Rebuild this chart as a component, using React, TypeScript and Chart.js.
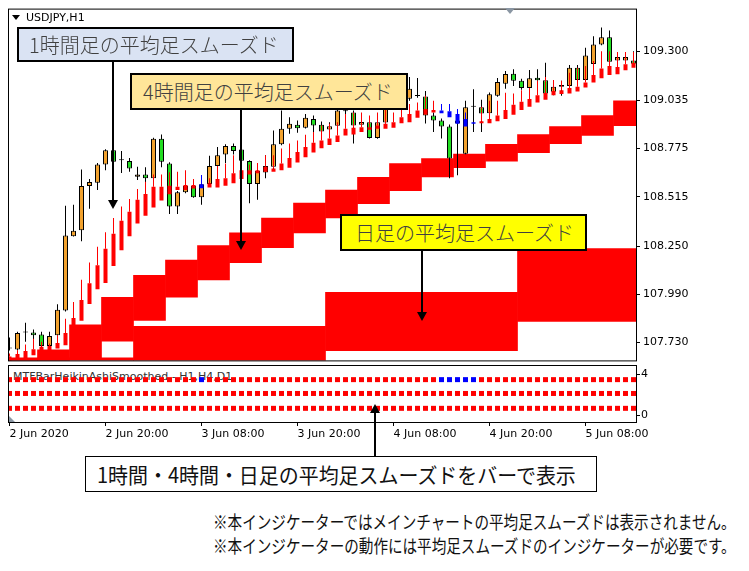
import React, { useEffect, useRef } from 'react';
import { Chart, registerables } from 'chart.js';

Chart.register(...registerables);

// ---------------- data ----------------
const xTickBars = [0, 12, 24, 36, 48, 60, 72];
const xTickLabels = ['2 Jun 2020', '2 Jun 20:00', '3 Jun 08:00', '3 Jun 20:00', '4 Jun 08:00', '4 Jun 20:00', '5 Jun 08:00'];
const priceTicks = [109.3, 109.035, 108.775, 108.515, 108.25, 107.99, 107.73];
const subTicks = [0, 4];

// USDJPY H1 candles (bar 0 = 2 Jun 08:00)
const opens = [
  107.698, 107.693, 107.784, 107.784, 107.773, 107.712, 107.769, 107.903, 108.303, 108.335,
  108.574, 108.591, 108.690, 108.766, 108.713, 108.708, 108.623, 108.636, 108.615, 108.828,
  108.695, 108.463, 108.540, 108.575, 108.513, 108.584, 108.682, 108.743, 108.789, 108.770,
  108.708, 108.584, 108.647, 108.677, 108.798, 108.882, 108.903, 108.887, 108.935, 108.903,
  108.878, 108.898, 108.977, 108.970, 108.903, 108.917, 108.832, 108.916, 108.990, 109.006,
  109.044, 109.060, 109.056, 108.953, 108.926, 108.894, 108.926, 108.748, 109.001, 108.998,
  108.965, 109.060, 109.124, 109.179, 109.140, 109.101, 109.157, 109.143, 109.081, 109.108,
  109.113, 109.211, 109.145, 109.231, 109.336, 109.375, 109.250, 109.250, 109.250,
];
const highs = [
  107.757, 107.789, 107.837, 107.800, 107.789, 107.789, 107.936, 108.467, 108.472, 108.663,
  108.611, 108.698, 108.771, 108.777, 108.762, 108.725, 108.677, 108.675, 108.834, 108.851,
  108.702, 108.547, 108.655, 108.584, 108.590, 108.736, 108.784, 108.798, 108.802, 108.777,
  108.713, 108.698, 108.739, 108.873, 108.980, 108.944, 108.926, 108.962, 108.953, 108.921,
  108.917, 109.001, 109.006, 108.980, 108.964, 108.926, 108.948, 109.033, 109.044, 109.076,
  109.161, 109.156, 109.086, 108.969, 108.937, 108.905, 108.964, 109.033, 109.095, 109.038,
  109.077, 109.156, 109.193, 109.202, 109.151, 109.199, 109.202, 109.238, 109.125, 109.140,
  109.225, 109.225, 109.318, 109.380, 109.428, 109.411, 109.291, 109.291, 109.300,
];
const lows = [
  107.687, 107.687, 107.735, 107.740, 107.703, 107.698, 107.767, 107.898, 108.301, 108.276,
  108.451, 108.552, 108.659, 108.702, 108.643, 108.650, 108.606, 108.579, 108.611, 108.674,
  108.423, 108.423, 108.535, 108.510, 108.472, 108.579, 108.681, 108.698, 108.743, 108.702,
  108.481, 108.499, 108.615, 108.659, 108.793, 108.855, 108.861, 108.884, 108.861, 108.862,
  108.864, 108.894, 108.953, 108.802, 108.900, 108.830, 108.828, 108.910, 108.985, 108.990,
  109.033, 109.049, 108.910, 108.864, 108.830, 108.615, 108.632, 108.745, 108.864, 108.864,
  108.958, 109.054, 109.097, 109.113, 109.092, 109.097, 109.140, 109.070, 109.063, 109.060,
  109.108, 109.140, 109.140, 109.225, 109.332, 109.241, 109.247, 109.247, 109.231,
];
const closes = [
  107.699, 107.782, 107.785, 107.769, 107.711, 107.765, 107.907, 108.307, 108.332, 108.574,
  108.595, 108.690, 108.766, 108.704, 108.712, 108.668, 108.636, 108.615, 108.828, 108.704,
  108.463, 108.540, 108.575, 108.513, 108.583, 108.682, 108.739, 108.789, 108.762, 108.709,
  108.584, 108.654, 108.681, 108.798, 108.882, 108.909, 108.885, 108.941, 108.900, 108.867,
  108.896, 108.980, 108.976, 108.900, 108.918, 108.832, 108.917, 109.006, 109.017, 109.049,
  109.097, 109.059, 108.953, 108.926, 108.894, 108.722, 108.910, 108.998, 109.000, 108.964,
  109.068, 109.134, 109.177, 109.140, 109.101, 109.154, 109.143, 109.072, 109.108, 109.118,
  109.211, 109.145, 109.277, 109.336, 109.375, 109.243, 109.268, 109.268, 109.232,
];

// H1 Heikin-Ashi smoothed
const haOpen = [
  107.618, 107.636, 107.645, 107.662, 107.671, 107.689, 107.698, 107.716, 107.789, 107.848,
  107.938, 108.018, 108.051, 108.143, 108.228, 108.303, 108.371, 108.414, 108.458, 108.495,
  108.529, 108.552, 108.552, 108.560, 108.583, 108.565, 108.565, 108.575, 108.588, 108.611,
  108.636, 108.642, 108.650, 108.650, 108.659, 108.672, 108.700, 108.729, 108.754, 108.777,
  108.795, 108.810, 108.846, 108.851, 108.864, 108.877, 108.882, 108.882, 108.887, 108.912,
  108.917, 108.941, 108.958, 108.970, 108.980, 108.976, 108.962, 108.935, 108.917, 108.912,
  108.912, 108.922, 108.935, 108.958, 108.983, 109.001, 109.024, 109.038, 109.063, 109.069,
  109.072, 109.083, 109.104, 109.131, 109.154, 109.172, 109.176, 109.197, 109.211,
];
const haClose = [
  107.655, 107.668, 107.684, 107.694, 107.707, 107.712, 107.728, 107.782, 107.862, 107.960,
  108.049, 108.147, 108.236, 108.317, 108.387, 108.435, 108.499, 108.531, 108.570, 108.570,
  108.575, 108.570, 108.579, 108.579, 108.561, 108.588, 108.611, 108.615, 108.642, 108.659,
  108.659, 108.659, 108.677, 108.668, 108.695, 108.725, 108.757, 108.784, 108.807, 108.819,
  108.830, 108.846, 108.882, 108.887, 108.890, 108.890, 108.900, 108.909, 108.917, 108.944,
  108.962, 108.980, 108.989, 108.983, 108.965, 108.944, 108.909, 108.894, 108.909, 108.922,
  108.935, 108.953, 108.983, 109.012, 109.028, 109.042, 109.063, 109.074, 109.086, 109.090,
  109.101, 109.108, 109.131, 109.172, 109.206, 109.220, 109.215, 109.229, 109.238,
];
const haHigh = [
  107.671, 107.689, 107.719, 107.751, 107.735, 107.725, 107.769, 107.858, 107.949, 108.068,
  108.161, 108.246, 108.324, 108.401, 108.463, 108.504, 108.558, 108.597, 108.636, 108.636,
  108.648, 108.650, 108.659, 108.611, 108.633, 108.615, 108.682, 108.695, 108.739, 108.708,
  108.690, 108.698, 108.739, 108.739, 108.775, 108.802, 108.819, 108.850, 108.864, 108.900,
  108.909, 108.917, 108.962, 108.970, 108.969, 108.953, 108.969, 108.997, 108.970, 108.989,
  109.015, 109.024, 109.060, 109.033, 109.015, 109.015, 108.989, 108.969, 108.917, 109.001,
  109.033, 109.033, 109.076, 109.072, 109.090, 109.101, 109.140, 109.161, 109.145, 109.140,
  109.184, 109.211, 109.220, 109.247, 109.300, 109.300, 109.296, 109.296, 109.296,
];

// H4 Heikin-Ashi smoothed blocks (first bar of each 4-hour block)
const h4StartBar = [0, 4, 8, 12, 16, 20, 24, 28, 32, 36, 40, 44, 48, 52, 56, 60, 64, 68, 72, 76];
const h4Open = [
  107.559, 107.598, 107.645, 107.737, 107.849, 107.974, 108.068, 108.161, 108.241, 108.321,
  108.401, 108.478, 108.549, 108.622, 108.672, 108.707, 108.753, 108.801, 108.846, 108.898,
];
const h4Close = [
  107.639, 107.691, 107.826, 107.974, 108.093, 108.175, 108.253, 108.321, 108.401, 108.481,
  108.552, 108.620, 108.695, 108.722, 108.745, 108.798, 108.851, 108.894, 108.953, 109.033,
];

// Daily Heikin-Ashi smoothed blocks (first bar of each day: 2, 3, 4, 5 Jun)
const d1StartBar = [-8, 16, 40, 64];
const d1Open = [107.459, 107.554, 107.686, 107.844];
const d1Close = [107.648, 107.817, 108.001, 108.237];

// sub-window levels of the three bar rows (H1, H4, D1)
const rowLevels = [3.5, 2.15, 0.7];

// ---------------- styles ----------------
const RED = '#ff0000';
const BLUE = '#0000ff';
const ORANGE = '#f2a22e';
const GREEN = '#22dd22';
const AXIS_FONT = '"DejaVu Sans", Verdana, sans-serif';
const JP_FONT = '"Noto Sans CJK JP", "Noto Sans", sans-serif';
const X_MIN = -0.0625;
const X_MAX = 78.3125;
const Y_MIN = 107.634;
const Y_MAX = 109.524;
const SUB_MIN = -0.634;
const SUB_MAX = 4.83;
const W = 749;

const framePlugin = {
  id: 'frame',
  afterDraw(chart: any) {
    const { ctx, chartArea: a } = chart;
    ctx.save();
    ctx.strokeStyle = '#000';
    ctx.lineWidth = 1;
    ctx.strokeRect(a.left - 0.5, a.top - 0.5, a.right - a.left + 1, a.bottom - a.top + 1);
    ctx.restore();
  },
};

const hiddenX = (min: number, max: number) => ({
  type: 'linear' as const,
  min,
  max,
  display: false,
  ticks: { display: false },
  afterBuildTicks: (s: any) => {
    s.ticks = [];
  },
});

function MainChart() {
  const ref = useRef<HTMLCanvasElement>(null);
  useEffect(() => {
    if (!ref.current) return;
    const bars = opens.map((_, i) => i);
    const candleBodies = bars.map((i) => ({ x: i, y: [opens[i], closes[i]] }));
    const candleWicks = bars.map((i) => ({ x: i, y: [lows[i], highs[i]] }));
    const candleColors = bars.map((i) => (closes[i] < opens[i] ? GREEN : ORANGE));
    const haBodies = bars.map((i) => ({ x: i, y: [haOpen[i], haClose[i]] }));
    const haWicks = bars.map((i) => ({ x: i, y: [Math.max(haOpen[i], haClose[i]), haHigh[i]] }));
    const haColors = bars.map((i) => (haClose[i] >= haOpen[i] ? RED : BLUE));
    const h4Bars = h4StartBar.map((s, k) => ({ x: s + 1.5, y: [h4Open[k], h4Close[k]] }));
    const h4Colors = h4StartBar.map((_, k) => (h4Close[k] >= h4Open[k] ? RED : BLUE));
    const d1Bars = d1StartBar.map((s, k) => ({ x: s + 11.5, y: [d1Open[k], d1Close[k]] }));
    const d1Colors = d1StartBar.map((_, k) => (d1Close[k] >= d1Open[k] ? RED : BLUE));
    const common = { grouped: false, categoryPercentage: 1, borderWidth: 0, borderSkipped: false };

    const chart = new Chart(ref.current, {
      type: 'bar',
      data: {
        datasets: [
          { ...common, label: 'H1 HA body', data: haBodies as any, backgroundColor: haColors, barPercentage: 0.5, order: 0, xAxisID: 'x' },
          { ...common, label: 'H1 HA wick', data: haWicks as any, backgroundColor: haColors, barPercentage: 0.125, order: 1, xAxisID: 'x' },
          {
            ...common,
            label: 'USDJPY body',
            data: candleBodies as any,
            backgroundColor: candleColors,
            borderColor: '#000',
            borderWidth: 1,
            barPercentage: 0.625,
            minBarLength: 1,
            order: 2,
            xAxisID: 'x',
          },
          { ...common, label: 'USDJPY wick', data: candleWicks as any, backgroundColor: '#000', barPercentage: 0.125, order: 3, xAxisID: 'x' },
          { ...common, label: 'H4 HA', data: h4Bars as any, backgroundColor: h4Colors, barPercentage: 1, order: 4, xAxisID: 'xH4' },
          { ...common, label: 'D1 HA', data: d1Bars as any, backgroundColor: d1Colors, barPercentage: 1, order: 5, xAxisID: 'xD1' },
        ] as any,
      },
      options: {
        animation: false,
        responsive: false,
        maintainAspectRatio: false,
        devicePixelRatio: 1,
        events: [],
        layout: { padding: { left: 9, top: 8, right: 0, bottom: 8 } },
        plugins: { legend: { display: false }, tooltip: { enabled: false } },
        scales: {
          x: hiddenX(X_MIN, X_MAX),
          xH4: hiddenX(X_MIN, X_MAX),
          xD1: hiddenX(X_MIN, X_MAX),
          y: {
            type: 'linear',
            position: 'right',
            min: Y_MIN,
            max: Y_MAX,
            afterBuildTicks: (s: any) => {
              s.ticks = priceTicks.map((v) => ({ value: v }));
            },
            afterFit: (s: any) => {
              s.width = W - 636;
            },
            ticks: {
              callback: (v: any) => Number(v).toFixed(3),
              font: { family: AXIS_FONT, size: 11 },
              color: '#000',
              padding: 3,
              autoSkip: false,
            },
            grid: { drawOnChartArea: false, drawTicks: true, tickLength: 4, color: '#000' },
            border: { display: false },
          },
        } as any,
      },
      plugins: [framePlugin],
    });
    return () => chart.destroy();
  }, []);
  return <canvas ref={ref} width={W} height={370} style={{ position: 'absolute', left: 0, top: 0, width: W, height: 370 }} />;
}

function SubChart() {
  const ref = useRef<HTMLCanvasElement>(null);
  useEffect(() => {
    if (!ref.current) return;
    const bars = opens.map((_, i) => i);
    const dirH1 = bars.map((i) => (haClose[i] >= haOpen[i] ? RED : BLUE));
    const dirH4 = bars.map((i) => {
      let k = 0;
      h4StartBar.forEach((s, j) => {
        if (i >= s) k = j;
      });
      return h4Close[k] >= h4Open[k] ? RED : BLUE;
    });
    const dirD1 = bars.map((i) => {
      let k = 0;
      d1StartBar.forEach((s, j) => {
        if (i >= s) k = j;
      });
      return d1Close[k] >= d1Open[k] ? RED : BLUE;
    });
    const rows = [dirH1, dirH4, dirD1];
    const side = 3.5355;
    const chart = new Chart(ref.current, {
      type: 'scatter',
      data: {
        datasets: rows.map((colors, r) => ({
          label: ['H1', 'H4', 'D1'][r],
          data: bars.map((i) => ({ x: i, y: rowLevels[r] })),
          pointBackgroundColor: colors,
          pointBorderWidth: 0,
          pointStyle: 'rect',
          pointRadius: side,
          pointHoverRadius: side,
        })) as any,
      },
      options: {
        animation: false,
        responsive: false,
        maintainAspectRatio: false,
        devicePixelRatio: 1,
        events: [],
        layout: { padding: { left: 9, top: 8, right: 0, bottom: 0 } },
        plugins: { legend: { display: false }, tooltip: { enabled: false } },
        scales: {
          x: {
            type: 'linear',
            position: 'bottom',
            min: X_MIN,
            max: X_MAX,
            afterBuildTicks: (s: any) => {
              s.ticks = xTickBars.map((v) => ({ value: v }));
            },
            afterFit: (s: any) => {
              s.height = 28;
            },
            ticks: {
              callback: (_v: any, i: number) => xTickLabels[i],
              align: 'start',
              maxRotation: 0,
              minRotation: 0,
              autoSkip: false,
              font: { family: AXIS_FONT, size: 11 },
              color: '#000',
              padding: 1.5,
            },
            grid: { drawOnChartArea: false, drawTicks: true, tickLength: 4, color: '#000' },
            border: { display: false },
          },
          y: {
            type: 'linear',
            position: 'right',
            min: SUB_MIN,
            max: SUB_MAX,
            afterBuildTicks: (s: any) => {
              s.ticks = subTicks.map((v) => ({ value: v }));
            },
            afterFit: (s: any) => {
              s.width = W - 636;
            },
            ticks: {
              callback: (v: any) => String(v),
              font: { family: AXIS_FONT, size: 11 },
              color: '#000',
              padding: 1,
              autoSkip: false,
            },
            grid: { drawOnChartArea: false, drawTicks: true, tickLength: 4, color: '#000' },
            border: { display: false },
          },
        } as any,
      },
      plugins: [framePlugin],
    });
    return () => chart.destroy();
  }, []);
  return <canvas ref={ref} width={W} height={92} style={{ position: 'absolute', left: 0, top: 358, width: W, height: 92 }} />;
}

type BoxProps = {
  left: number;
  top: number;
  width: number;
  height: number;
  bg: string;
  border: number;
  size: number;
  pad: number;
  text: string;
  sx?: number;
  weight?: number;
  color?: string;
};
function Box({ left, top, width, height, bg, border, size, pad, text, sx = 1, weight = 300, color = '#404040' }: BoxProps) {
  return (
    <div
      style={{
        position: 'absolute',
        left,
        top,
        width,
        height,
        boxSizing: 'border-box',
        background: bg,
        border: `${border}px solid #000`,
        display: 'flex',
        alignItems: 'center',
        paddingLeft: pad,
        fontFamily: JP_FONT,
        fontSize: size,
        fontWeight: weight,
        color,
        whiteSpace: 'nowrap',
        lineHeight: 1,
      }}
    >
      <span style={{ display: 'inline-block', transform: `scaleX(${sx})`, transformOrigin: 'left center' }}>{text}</span>
    </div>
  );
}

function Arrow({ x, from, to }: { x: number; from: number; to: number }) {
  const down = to > from;
  const head = 9;
  const half = 5;
  const lineTop = down ? from : to + head;
  const lineBottom = down ? to - head : from;
  const headStyle: any = {
    position: 'absolute',
    left: x - half,
    top: down ? to - head : to,
    width: 0,
    height: 0,
    borderLeft: `${half}px solid transparent`,
    borderRight: `${half}px solid transparent`,
  };
  if (down) headStyle.borderTop = `${head}px solid #000`;
  else headStyle.borderBottom = `${head}px solid #000`;
  return (
    <>
      <div style={{ position: 'absolute', left: x - 1, top: lineTop, width: 2, height: lineBottom - lineTop, background: '#000' }} />
      <div style={headStyle} />
    </>
  );
}

const noteStyle: React.CSSProperties = {
  position: 'absolute',
  left: 213,
  fontFamily: JP_FONT,
  fontSize: 18,
  lineHeight: '22px',
  color: '#111',
  whiteSpace: 'nowrap',
  transform: 'scaleX(0.81)',
  transformOrigin: 'left center',
};

export default function App() {
  return (
    <div style={{ position: 'absolute', left: 0, top: 0, width: W, height: 571, background: '#fff', overflow: 'hidden' }}>
      <div
        style={{ position: 'absolute', left: 13, top: 369.5, fontFamily: AXIS_FONT, fontSize: 11, lineHeight: '13px', color: '#333', whiteSpace: 'nowrap' }}
      >
        MTFBarHeikinAshiSmoothed - H1,H4,D1
      </div>
      <MainChart />
      <SubChart />
      <div style={{ position: 'absolute', left: 12, top: 15, width: 0, height: 0, borderLeft: '4px solid transparent', borderRight: '4px solid transparent', borderTop: '5px solid #000' }} />
      <div style={{ position: 'absolute', left: 26, top: 11, fontFamily: AXIS_FONT, fontSize: 11, lineHeight: '13px', color: '#000', whiteSpace: 'nowrap' }}>USDJPY,H1</div>
      <div style={{ position: 'absolute', left: 505, top: 8, width: 0, height: 0, borderLeft: '5px solid transparent', borderRight: '5px solid transparent', borderTop: '6px solid #8a96a3' }} />
      <div style={{ position: 'absolute', left: 9, top: 416, width: 0, height: 0, borderBottom: '6px solid #8a96a3', borderRight: '6px solid transparent' }} />

      <Arrow x={113} from={62} to={209} />
      <Arrow x={241} from={110} to={250} />
      <Arrow x={422} from={250} to={321} />
      <Arrow x={375} from={456} to={404} />

      <Box left={17} top={27} width={277} height={35} bg="#dae3f3" border={2} size={20} pad={10} text="1時間足の平均足スムーズド" />
      <Box left={130} top={73} width={278} height={37} bg="#ffe699" border={2} size={20} pad={11} text="4時間足の平均足スムーズド" />
      <Box left={340} top={214} width={247} height={37} bg="#ffff00" border={2} size={20} pad={13} text="日足の平均足スムーズド" />
      <Box
        left={85}
        top={456}
        width={512}
        height={36}
        bg="#ffffff"
        border={1}
        size={21}
        pad={11}
        sx={0.95}
        weight={400}
        color="#111"
        text="1時間・4時間・日足の平均足スムーズドをバーで表示"
      />

      <div style={{ ...noteStyle, top: 510 }}>※本インジケーターではメインチャートの平均足スムーズドは表示されません。</div>
      <div style={{ ...noteStyle, top: 534 }}>※本インジケーターの動作には平均足スムーズドのインジケーターが必要です。</div>
    </div>
  );
}
